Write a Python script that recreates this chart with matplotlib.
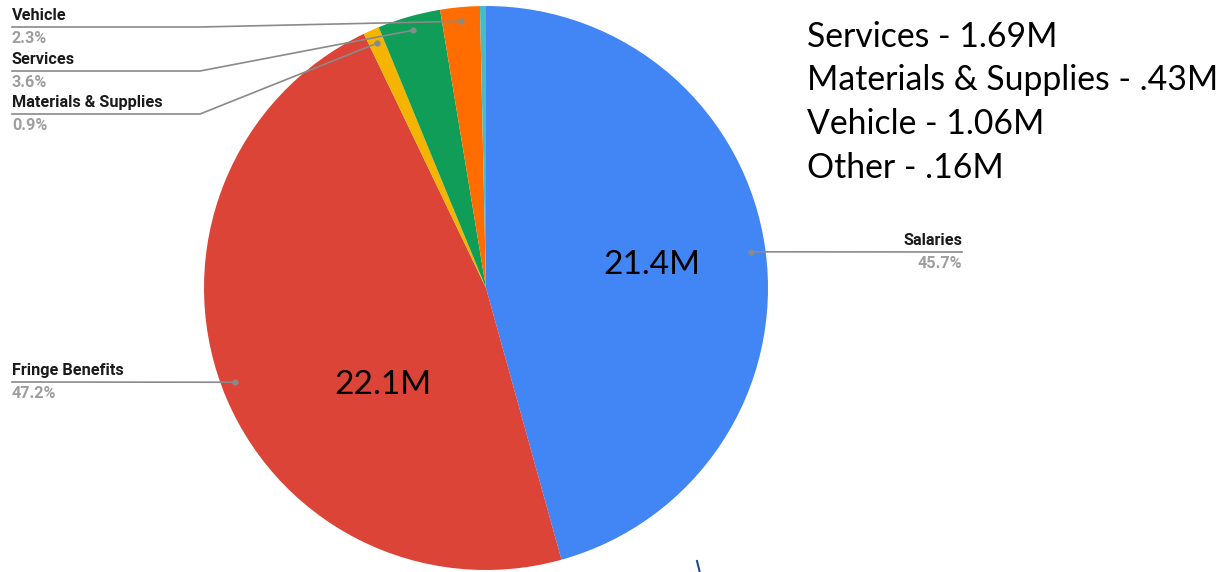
import numpy as np
import matplotlib
matplotlib.use("Agg")
import matplotlib.pyplot as plt

categories = ["Salaries", "Fringe Benefits", "Materials & Supplies", "Services", "Vehicle", "Other"]
values_m = [21.4, 22.1, 0.43, 1.69, 1.06, 0.16]
pct_labels = ["45.7%", "47.2%", "0.9%", "3.6%", "2.3%", ""]
colors = ["#4285F4", "#DB4437", "#F4B400", "#0F9D58", "#FF6D01", "#46BDC6"]
inner_labels = ["21.4M", "22.1M"]
side_notes = ["Services - 1.69M", "Materials & Supplies - .43M", "Vehicle - 1.06M", "Other - .16M"]

W, H = 1228, 572
fig = plt.figure(figsize=(W / 100, H / 100), dpi=100)

def fx(x):
    return x / W

def fy(y):
    return 1 - y / H

# pie axes: center (486, 288), radius 282 px
cx, cy, R = 486, 288, 282
ax = fig.add_axes([fx(cx - R), fy(cy + R), 2 * R / W, 2 * R / H])
wedges, _ = ax.pie(values_m, colors=colors, startangle=90, counterclock=False,
                   radius=1, wedgeprops=dict(linewidth=0))
ax.set_xlim(-1, 1)
ax.set_ylim(-1, 1)
ax.set_aspect("equal")
ax.axis("off")

def data_to_px(x, y):
    return cx + x * R, cy - y * R

def mid_point(i, r=0.95):
    w = wedges[i]
    a = np.deg2rad((w.theta1 + w.theta2) / 2)
    return r * np.cos(a), r * np.sin(a)

line_col = "#8a8a8a"
lab_font = "Roboto"
pct_col = "#9e9e9e"

def leader(i, path_px):
    dx, dy = mid_point(i)
    px0, py0 = data_to_px(dx, dy)
    xs = [px0] + [p[0] for p in path_px]
    ys = [py0] + [p[1] for p in path_px]
    fig.add_artist(plt.Line2D([fx(x) for x in xs], [fy(y) for y in ys],
                              color=line_col, lw=1.2, transform=fig.transFigure))
    fig.add_artist(plt.Line2D([fx(px0)], [fy(py0)], marker="o", ms=3.5,
                              color=line_col, transform=fig.transFigure, lw=0))

def label(x, y_line, name, pct, ha):
    fig.text(fx(x), fy(y_line - 4), name, ha=ha, va="bottom", fontsize=11.7,
             fontweight="bold", family=lab_font, color="#1a1a1a")
    fig.text(fx(x), fy(y_line + 4), pct, ha=ha, va="top", fontsize=11.7,
             fontweight="bold", family=lab_font, color=pct_col)

# Salaries
leader(0, [(962, 252)])
label(962, 252, categories[0], pct_labels[0], "right")
# Fringe Benefits
leader(1, [(12, 382)])
label(12, 382, categories[1], pct_labels[1], "left")
# Materials & Supplies
leader(2, [(200, 114), (12, 114)])
label(12, 114, categories[2], pct_labels[2], "left")
# Services
leader(3, [(200, 71), (12, 71)])
label(12, 71, categories[3], pct_labels[3], "left")
# Vehicle
leader(4, [(200, 27), (12, 27)])
label(12, 27, categories[4], pct_labels[4], "left")

# inner value labels
fig.text(fx(652), fy(265), inner_labels[0], ha="center", va="center",
         fontsize=24, family="Lato", color="black")
fig.text(fx(383), fy(385), inner_labels[1], ha="center", va="center",
         fontsize=24, family="Lato", color="black")

# side notes
for k, t in enumerate(side_notes):
    fig.text(fx(807), fy(37 + 43.5 * k), t, ha="left", va="center",
             fontsize=24.3, family="Lato", color="black")

# small stray stroke near bottom
fig.add_artist(plt.Line2D([fx(697), fx(699.5)], [fy(561), fy(571)], color="#1f4e8c",
                          lw=1.5, transform=fig.transFigure))

fig.savefig("out.png", dpi=100)
